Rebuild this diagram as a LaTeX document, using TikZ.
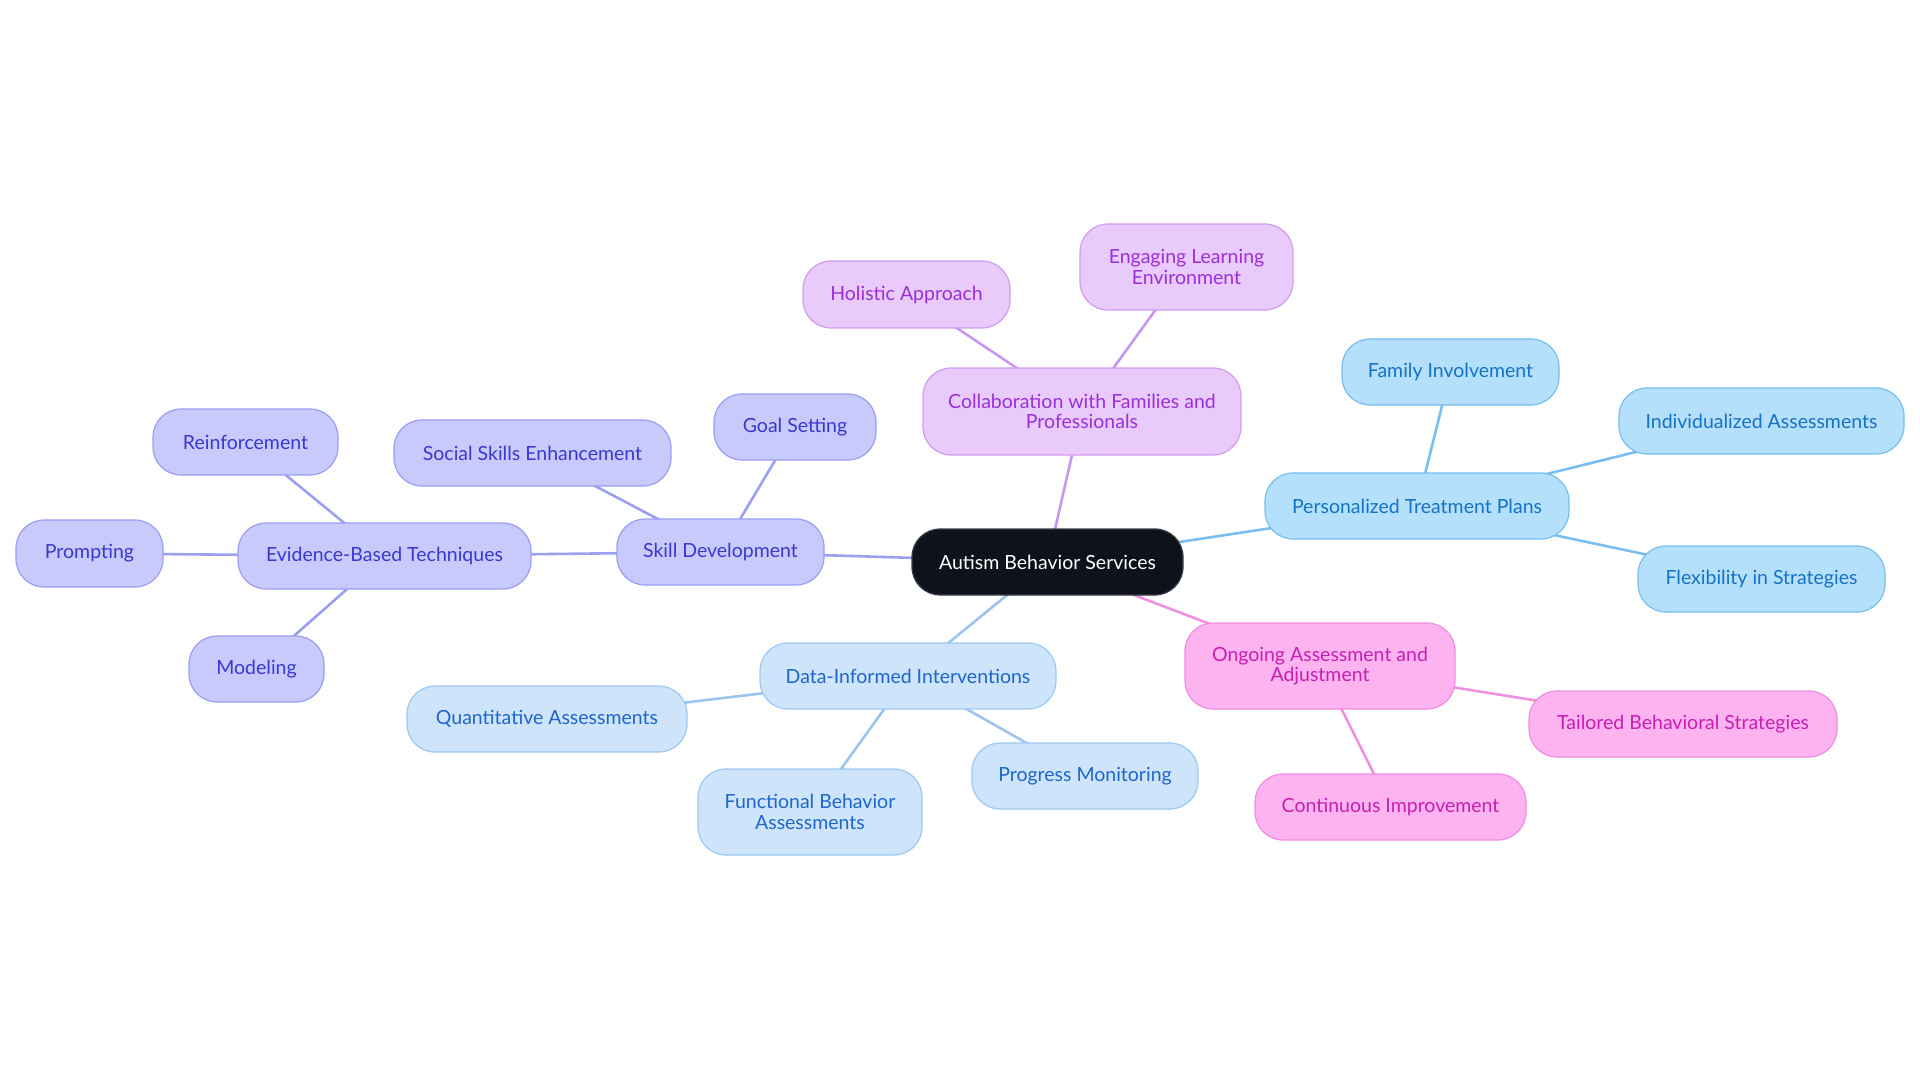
\documentclass[tikz,border=0pt]{standalone}
\usepackage{fontspec}
\setmainfont{Lato}
\usetikzlibrary{backgrounds}
\definecolor{cfill}{HTML}{0D121B}
\definecolor{cdraw}{HTML}{3A3F48}
\definecolor{pfill}{HTML}{E8CAFB}
\definecolor{pdraw}{HTML}{D29BF0}
\definecolor{ptext}{HTML}{9B30D9}
\definecolor{pline}{HTML}{C896F0}
\definecolor{kfill}{HTML}{FCB3F0}
\definecolor{kdraw}{HTML}{F08BE4}
\definecolor{ktext}{HTML}{C81EB4}
\definecolor{kline}{HTML}{F090E0}
\definecolor{dfill}{HTML}{CDE4FA}
\definecolor{ddraw}{HTML}{9CC8F2}
\definecolor{dtext}{HTML}{1F66CC}
\definecolor{dline}{HTML}{9CC4EE}
\definecolor{bfill}{HTML}{B4E0FC}
\definecolor{bdraw}{HTML}{78BDEE}
\definecolor{btext}{HTML}{1672C4}
\definecolor{bline}{HTML}{78BEF0}
\definecolor{lfill}{HTML}{C8CAFC}
\definecolor{ldraw}{HTML}{9A9EF2}
\definecolor{ltext}{HTML}{3A38CF}
\definecolor{lline}{HTML}{9A9FF0}
\tikzset{
  x=1pt, y=-1pt,
  box/.style={rounded corners=28pt, line width=1.2pt, inner sep=0pt, align=center,
    font=\fontsize{19.5}{20.5}\selectfont},
  cbox/.style={box, fill=cfill, draw=cdraw, text=white},
  pbox/.style={box, fill=pfill, draw=pdraw, text=ptext},
  kbox/.style={box, fill=kfill, draw=kdraw, text=ktext},
  dbox/.style={box, fill=dfill, draw=ddraw, text=dtext},
  bbox/.style={box, fill=bfill, draw=bdraw, text=btext},
  lbox/.style={box, fill=lfill, draw=ldraw, text=ltext},
  conn/.style={line width=2.6pt},
  sz/.style 2 args={minimum width=#1pt, minimum height=#2pt},
}
\begin{document}
\begin{tikzpicture}
\useasboundingbox (0,0) rectangle (1920,1083);
\node[cbox, sz={271}{66}] (center) at (1047.5,562) {Autism Behavior Services};
\node[pbox, sz={318}{87}] (collab) at (1082,411.5) {Collaboration with Families and\\Professionals};
\node[pbox, sz={207}{67}] (holistic) at (906.5,294.5) {Holistic Approach};
\node[pbox, sz={213}{86}] (engaging) at (1186.5,267) {Engaging Learning\\Environment};
\node[bbox, sz={304}{66}] (ptp) at (1417,506) {Personalized Treatment Plans};
\node[bbox, sz={217}{66}] (family) at (1450.5,372) {Family Involvement};
\node[bbox, sz={285}{66}] (indiv) at (1761.5,421) {Individualized Assessments};
\node[bbox, sz={247}{66}] (flex) at (1761.5,579) {Flexibility in Strategies};
\node[kbox, sz={270}{86}] (ongoing) at (1320,666) {Ongoing Assessment and\\Adjustment};
\node[kbox, sz={308}{66}] (tailored) at (1683,724) {Tailored Behavioral Strategies};
\node[kbox, sz={271}{66}] (continuous) at (1390.5,807) {Continuous Improvement};
\node[dbox, sz={296}{66}] (data) at (908,676) {Data-Informed Interventions};
\node[dbox, sz={280}{66}] (quant) at (547,719) {Quantitative Assessments};
\node[dbox, sz={224}{86}] (functional) at (810,812) {Functional Behavior\\Assessments};
\node[dbox, sz={226}{66}] (progress) at (1085,776) {Progress Monitoring};
\node[lbox, sz={207}{66}] (skill) at (720.5,552) {Skill Development};
\node[lbox, sz={277}{66}] (social) at (532.5,453) {Social Skills Enhancement};
\node[lbox, sz={162}{66}] (goal) at (795,427) {Goal Setting};
\node[lbox, sz={293}{66}] (evidence) at (384.5,556) {Evidence-Based Techniques};
\node[lbox, sz={185}{66}] (reinforce) at (245.5,442) {Reinforcement};
\node[lbox, sz={147}{67}] (prompting) at (89.5,553.5) {Prompting};
\node[lbox, sz={135}{66}] (modeling) at (256.5,669) {Modeling};
\begin{scope}[on background layer]
\draw[conn, pline] (center.center) -- (collab.center);
\draw[conn, pline] (collab.center) -- (holistic.center);
\draw[conn, pline] (collab.center) -- (engaging.center);
\draw[conn, bline] (center.center) -- (ptp.center);
\draw[conn, bline] (ptp.center) -- (family.center);
\draw[conn, bline] (ptp.center) -- (indiv.center);
\draw[conn, bline] (ptp.center) -- (flex.center);
\draw[conn, kline] (center.center) -- (ongoing.center);
\draw[conn, kline] (ongoing.center) -- (tailored.center);
\draw[conn, kline] (ongoing.center) -- (continuous.center);
\draw[conn, dline] (center.center) -- (data.center);
\draw[conn, dline] (data.center) -- (quant.center);
\draw[conn, dline] (data.center) -- (functional.center);
\draw[conn, dline] (data.center) -- (progress.center);
\draw[conn, lline] (center.center) -- (skill.center);
\draw[conn, lline] (skill.center) -- (social.center);
\draw[conn, lline] (skill.center) -- (goal.center);
\draw[conn, lline] (skill.center) -- (evidence.center);
\draw[conn, lline] (evidence.center) -- (reinforce.center);
\draw[conn, lline] (evidence.center) -- (prompting.center);
\draw[conn, lline] (evidence.center) -- (modeling.center);
\end{scope}
\end{tikzpicture}
\end{document}
